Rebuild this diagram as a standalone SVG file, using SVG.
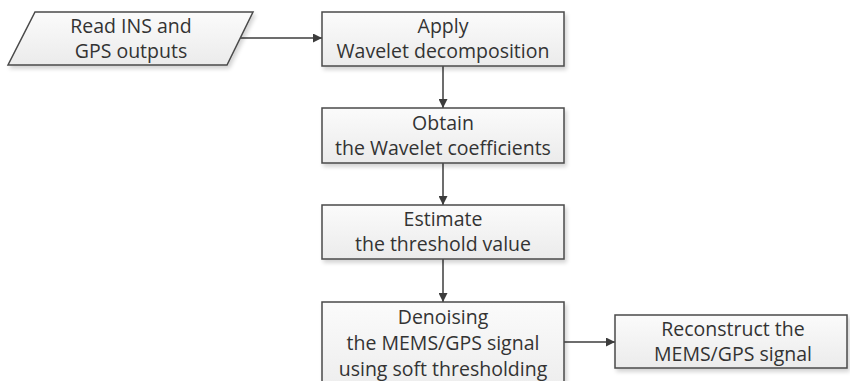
<svg xmlns="http://www.w3.org/2000/svg" width="850" height="381" viewBox="0 0 850 381">
  <defs>
    <linearGradient id="boxFill" x1="0" y1="0" x2="0" y2="1">
      <stop offset="0" stop-color="#fbfbfb"/>
      <stop offset="1" stop-color="#ebebeb"/>
    </linearGradient>
    <filter id="shadow" x="-10%" y="-20%" width="125%" height="150%">
      <feGaussianBlur in="SourceAlpha" stdDeviation="2"/>
      <feOffset dx="2" dy="3" result="b"/>
      <feComponentTransfer><feFuncA type="linear" slope="0.18"/></feComponentTransfer>
      <feMerge><feMergeNode/><feMergeNode in="SourceGraphic"/></feMerge>
    </filter>
    <marker id="arrow" viewBox="0 0 10 10" refX="10" refY="5" markerWidth="10" markerHeight="9" markerUnits="userSpaceOnUse" orient="auto">
      <path d="M0,0 L10,5 L0,10 Z" fill="#3c3c3c"/>
    </marker>
  </defs>
  <style>
    .shape { fill: url(#boxFill); stroke: #4a4a4a; stroke-width: 1.5; filter: url(#shadow); }
    .label { font-family: "Open Sans", "Liberation Sans", Arial, sans-serif; font-size: 19.5px; fill: #333333; text-anchor: middle; }
    .link { stroke: #3c3c3c; stroke-width: 1.5; fill: none; marker-end: url(#arrow); }
  </style>
  <rect width="850" height="381" fill="#ffffff"/>

  <!-- flow arrows -->
  <g id="connectors">
    <line class="link" x1="240" y1="38" x2="322" y2="38"/>
    <line class="link" x1="443" y1="66" x2="443" y2="108"/>
    <line class="link" x1="443" y1="163" x2="443" y2="205"/>
    <line class="link" x1="443" y1="259" x2="443" y2="302"/>
    <line class="link" x1="564" y1="342" x2="615" y2="342"/>
  </g>

  <!-- input data (parallelogram) -->
  <g id="read-outputs">
    <polygon class="shape" points="35,12 253,12 227,65 8,65"/>
    <text class="label" x="131" y="33">Read INS and</text>
    <text class="label" x="131" y="58">GPS outputs</text>
  </g>

  <g id="wavelet-decomposition">
    <rect class="shape" x="322" y="12" width="242" height="54"/>
    <text class="label" x="443" y="33">Apply</text>
    <text class="label" x="443" y="58">Wavelet decomposition</text>
  </g>

  <g id="wavelet-coefficients">
    <rect class="shape" x="322" y="108" width="242" height="55"/>
    <text class="label" x="443" y="130">Obtain</text>
    <text class="label" x="443" y="155">the Wavelet coefficients</text>
  </g>

  <g id="threshold">
    <rect class="shape" x="322" y="205" width="242" height="54"/>
    <text class="label" x="443" y="226">Estimate</text>
    <text class="label" x="443" y="251">the threshold value</text>
  </g>

  <g id="denoising">
    <rect class="shape" x="322" y="302" width="242" height="100"/>
    <text class="label" x="443" y="324">Denoising</text>
    <text class="label" x="443" y="350">the MEMS/GPS signal</text>
    <text class="label" x="443" y="376">using soft thresholding</text>
  </g>

  <g id="reconstruct">
    <rect class="shape" x="615" y="315" width="232" height="53"/>
    <text class="label" x="733" y="336">Reconstruct the</text>
    <text class="label" x="733" y="361">MEMS/GPS signal</text>
  </g>
</svg>
